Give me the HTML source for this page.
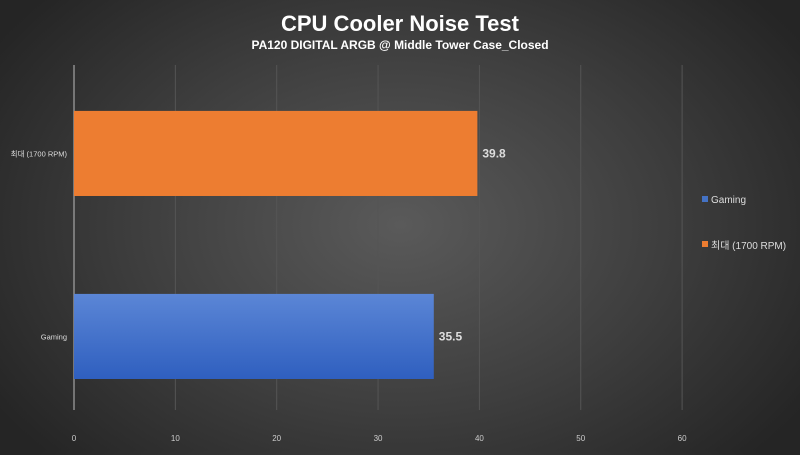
<!DOCTYPE html>
<html><head><meta charset="utf-8"><style>
html,body{margin:0;padding:0}
body{width:800px;height:450px;overflow:hidden;background:radial-gradient(ellipse 60% 75% at 50% 50%,#5a5a5a 0%,#3e3e3e 55%,#252525 100%);font-family:"Liberation Sans","Noto Sans CJK KR",sans-serif}
</style></head><body>
<svg id="chart" width="800" height="450" xmlns="http://www.w3.org/2000/svg">
<defs>
<linearGradient id="blueG" x1="0" y1="0" x2="0" y2="1"><stop offset="0" stop-color="#5b86d6"/><stop offset="1" stop-color="#2f5fbf"/></linearGradient>
</defs>
<text x="400" y="31" text-anchor="middle" fill="#fff" font-size="22" font-weight="bold">CPU Cooler Noise Test</text>
<text x="400" y="49" text-anchor="middle" fill="#fff" font-size="12" font-weight="bold">PA120 DIGITAL ARGB @ Middle Tower Case_Closed</text>
<g id="grid"></g><g id="bars"></g><g id="ticks"></g>
<g>
<rect x="702" y="196" width="6" height="6" fill="#4472c4"/>
<text x="711" y="203" fill="#ddd" font-size="10">Gaming</text>
<rect x="702" y="241" width="6" height="6" fill="#ed7d31"/>
<text x="711" y="249" fill="#ddd" font-size="10">최대 (1700 RPM)</text>
</g>
</svg>
<script>
const categories=["최대 (1700 RPM)","Gaming"];
const values=[39.8,35.5];
const tickLabels=[0,10,20,30,40,50,60];
const ns="http://www.w3.org/2000/svg";
const x0=74,pxPer=10.135,gridTop=65,gridBot=410,bandTop=56,bandH=183;
const xs=v=>x0+v*pxPer;
const colors=["#ed7d31","url(#blueG)"];
function mk(t,a,p){const e=document.createElementNS(ns,t);for(const k in a)e.setAttribute(k,a[k]);p.appendChild(e);return e;}
const grid=document.getElementById('grid'),bars=document.getElementById('bars'),ticks=document.getElementById('ticks');
tickLabels.forEach((t,i)=>{
 const g=mk('line',{x1:xs(t),x2:xs(t),y1:gridTop,y2:gridBot,stroke:i===0?'#bbb':'#555','stroke-width':1},grid);
 
 
 const l=mk('text',{x:xs(t),y:441,'text-anchor':'middle',fill:'#ccc','font-size':8},ticks);
 l.textContent=t;
 
 
});
categories.forEach((c,i)=>{
 const y=bandTop+bandH*(i+0.3),h=bandH*0.465;
 const r=mk('rect',{x:x0,y:y,width:xs(values[i])-x0,height:h,fill:colors[i]},bars);
 
 
 const v=mk('text',{x:xs(values[i])+5,y:y+h/2+4,fill:'#ddd','font-size':12,'font-weight':'bold'},bars);
 v.textContent=values[i];
 
 
 const cl=mk('text',{x:67,y:y+h/2+3,'text-anchor':'end',fill:'#ddd','font-size':7.5},bars);
 cl.textContent=c;
 
 
});
</script>
</body></html>
